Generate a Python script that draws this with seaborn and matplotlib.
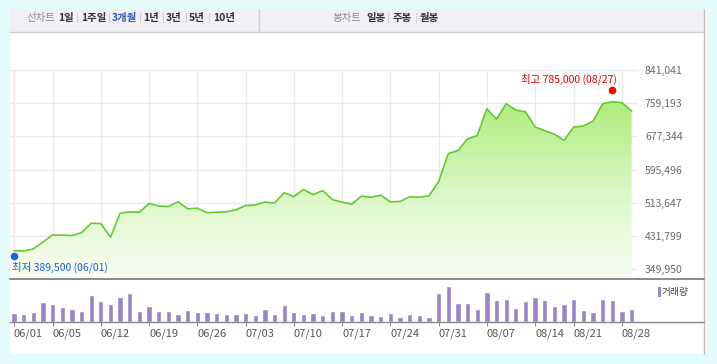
import numpy as np
import pandas as pd
import seaborn as sns
import matplotlib
matplotlib.use('Agg')
import matplotlib.pyplot as plt
import matplotlib.transforms as mtransforms
from matplotlib.colors import LinearSegmentedColormap
from matplotlib.patches import Rectangle
from matplotlib.lines import Line2D

# 거래일 (2020.06.01 ~ 08.31)
trade_dates = [
    '06/01', '06/02', '06/03', '06/04', '06/05', '06/08', '06/09', '06/10', '06/11', '06/12',
    '06/15', '06/16', '06/17', '06/18', '06/19', '06/22', '06/23', '06/24', '06/25', '06/26',
    '06/29', '06/30', '07/01', '07/02', '07/03', '07/06', '07/07', '07/08', '07/09', '07/10',
    '07/13', '07/14', '07/15', '07/16', '07/17', '07/20', '07/21', '07/22', '07/23', '07/24',
    '07/27', '07/28', '07/29', '07/30', '07/31', '08/03', '08/04', '08/05', '08/06', '08/07',
    '08/10', '08/11', '08/12', '08/13', '08/14', '08/18', '08/19', '08/20', '08/21', '08/24',
    '08/25', '08/26', '08/27', '08/28', '08/31',
]
close_price = [
    396000, 395000, 400000, 417000, 434500, 434000, 433000, 440000, 463500, 462500,
    429000, 488000, 491500, 490500, 512000, 506000, 504500, 516000, 499000, 500500,
    489500, 490500, 491500, 496500, 507000, 508500, 515500, 513000, 539000, 529000,
    546500, 534000, 544000, 521500, 515500, 510500, 530000, 527500, 532500, 516000,
    517000, 528500, 527500, 531000, 566000, 635000, 642500, 671000, 679500, 745500,
    720000, 758000, 742500, 738000, 700500, 691500, 683000, 667500, 700500, 703000,
    715000, 758000, 763000, 760500, 740000,
]
volume = [
    28, 25, 31, 60, 54, 45, 39, 33, 81, 63,
    54, 75, 87, 33, 48, 33, 33, 24, 36, 30,
    30, 27, 24, 24, 27, 21, 39, 24, 51, 30,
    24, 27, 21, 33, 33, 21, 30, 21, 18, 27,
    15, 24, 21, 15, 87, 108, 57, 57, 39, 90,
    66, 69, 42, 63, 75, 66, 48, 54, 69, 36,
    30, 69, 66, 33, 39,
]
tick_dates = ['06/01', '06/05', '06/12', '06/19', '06/26', '07/03', '07/10',
              '07/17', '07/24', '07/31', '08/07', '08/14', '08/21', '08/28']
price_ticks = [349950, 431799, 513647, 595496, 677344, 759193, 841041]
low_price, low_date = 389500, '06/01'
high_price, high_date = 785000, '08/27'
period_tabs = ['1일', '1주일', '3개월', '1년', '3년', '5년', '10년']
candle_tabs = ['일봉', '주봉', '월봉']

W, H = 717, 364


def fx(x):
    return x / W


def fy(y):
    return 1 - y / H


sns.set_style('white')
plt.rcParams['font.family'] = ['Noto Sans CJK KR', 'DejaVu Sans']

fig = plt.figure(figsize=(W / 100, H / 100), dpi=100)
fig.patch.set_facecolor('#e4fcfc')

# 흰색 패널과 상단 탭 영역
fig.add_artist(Rectangle((fx(10), fy(354)), fx(707) - fx(10), fy(9) - fy(354),
                         transform=fig.transFigure, facecolor='white', lw=0, zorder=-10))
fig.add_artist(Rectangle((fx(10), fy(32)), fx(704) - fx(10), fy(9) - fy(32),
                         transform=fig.transFigure, facecolor='#f1f1f5', lw=0, zorder=-9))
fig.add_artist(Line2D([fx(10), fx(704)], [fy(32), fy(32)], color='#cfcfd4', lw=1,
                      transform=fig.transFigure))
fig.add_artist(Line2D([fx(259), fx(259)], [fy(9), fy(32)], color='#cfcfd4', lw=1,
                      transform=fig.transFigure))
fig.add_artist(Line2D([fx(704), fx(704)], [fy(9), fy(354)], color='#bdbdbd', lw=1,
                      transform=fig.transFigure))

tab_y = fy(18)
fig.text(fx(41), tab_y, '선차트', color='#8a8a8a', fontsize=7.5, ha='center', va='center')
for label, cx in zip(period_tabs, [66, 94, 124, 151, 174, 197, 224]):
    fig.text(fx(cx), tab_y, label, color='#2f5bbf' if label == '3개월' else '#333333',
             fontsize=7.5, fontweight='bold', ha='center', va='center')
for sx in [77, 109, 140, 163, 186, 209, 388, 416]:
    fig.add_artist(Line2D([fx(sx), fx(sx)], [fy(13), fy(22)], color='#d0d0d0', lw=0.8,
                          transform=fig.transFigure))
fig.text(fx(347), tab_y, '봉차트', color='#8a8a8a', fontsize=7.5, ha='center', va='center')
for label, cx in zip(candle_tabs, [376, 402, 429]):
    fig.text(fx(cx), tab_y, label, color='#333333', fontsize=7.5, fontweight='bold',
             ha='center', va='center')

df = pd.DataFrame({'day': np.arange(len(trade_dates)), 'date': trade_dates,
                   'close': close_price, 'volume': volume})
tick_idx = [trade_dates.index(d) for d in tick_dates]
xlim = (-0.41, 64.66)
ylim = (326000, 841041)

# 가격 차트
ax = fig.add_axes([fx(10), fy(279), fx(638) - fx(10), fy(70) - fy(279)])
ax.set_facecolor('none')
sns.lineplot(data=df, x='day', y='close', color='#66c832', lw=1.2, ax=ax, zorder=4)
poly = ax.fill_between(df['day'], df['close'], ylim[0], color='none', lw=0)
cmap = LinearSegmentedColormap.from_list('fill', ['#f8fdf4', '#daf7c4', '#afec7e'])
img = ax.imshow(np.linspace(0, 1, 256).reshape(-1, 1), cmap=cmap, origin='lower', aspect='auto',
                extent=[df['day'].min(), df['day'].max(), ylim[0], df['close'].max()], zorder=2)
img.set_clip_path(poly.get_paths()[0], transform=ax.transData)

ax.set_xlim(xlim)
ax.set_ylim(ylim)
ax.set_xticks(tick_idx)
ax.set_yticks(price_ticks)
ax.set_yticklabels([f'{v:,}' for v in price_ticks])
ax.grid(True, color='#ebebeb', lw=1)
ax.set_axisbelow(True)
ax.tick_params(axis='x', length=0, labelbottom=False)
ax.tick_params(axis='y', length=0, left=False, labelleft=False, right=True, labelright=True,
               pad=5, labelsize=7.5, labelcolor='#6a6a6a')
ax.set_xlabel('')
ax.set_ylabel('')
for side in ['top', 'left', 'right']:
    ax.spines[side].set_visible(False)
ax.spines['bottom'].set_color('#777777')
ax.spines['bottom'].set_linewidth(1.2)

low_idx = trade_dates.index(low_date)
high_idx = trade_dates.index(high_date)
down = ax.transData + mtransforms.ScaledTranslation(0, -3 / 100, fig.dpi_scale_trans)
up = ax.transData + mtransforms.ScaledTranslation(0, 2.5 / 100, fig.dpi_scale_trans)
ax.plot(low_idx, low_price, 'o', color='#1c64dc', ms=4.5, transform=down, clip_on=False, zorder=6)
ax.plot(high_idx, high_price, 'o', color='#ff0000', ms=4.5, transform=up, clip_on=False, zorder=6)
ax.annotate(f'최저 {low_price:,} ({low_date})', xy=(low_idx, low_price), xytext=(-1.7, -10),
            textcoords='offset points', ha='left', va='center', color='#1c5fd8', fontsize=7.5,
            annotation_clip=False)
ax.annotate(f'최고 {high_price:,} ({high_date})', xy=(high_idx, high_price), xytext=(3.4, 9.4),
            textcoords='offset points', ha='right', va='center', color='#e60000', fontsize=7.5,
            annotation_clip=False)

# 거래량 차트
ax2 = fig.add_axes([fx(10), fy(322), fx(638) - fx(10), fy(279) - fy(322)])
ax2.set_facecolor('none')
sns.barplot(data=df, x='day', y='volume', native_scale=True, width=0.55, color='#9a84c6',
            saturation=1, errorbar=None, ax=ax2)
ax2.set_xlim(xlim)
ax2.set_ylim(0, 129)
ax2.set_xticks(tick_idx)
ax2.set_xticklabels(tick_dates)
for lab in ax2.get_xticklabels():
    lab.set_horizontalalignment('left')
ax2.set_yticks([])
ax2.set_xlabel('')
ax2.set_ylabel('')
ax2.tick_params(axis='x', direction='out', length=3, width=0.8, color='#888888', pad=2,
                labelsize=8, labelcolor='#555555', bottom=True)
for side in ['top', 'left', 'right']:
    ax2.spines[side].set_visible(False)
ax2.spines['bottom'].set_color('#888888')
ax2.spines['bottom'].set_linewidth(1)

fig.add_artist(Line2D([fx(638), fx(704)], [fy(279), fy(279)], color='#777777', lw=1.2,
                      transform=fig.transFigure))
fig.add_artist(Line2D([fx(638), fx(704)], [fy(322), fy(322)], color='#888888', lw=1,
                      transform=fig.transFigure))
fig.add_artist(Rectangle((fx(658), fy(297)), fx(661) - fx(658), fy(287) - fy(297),
                         transform=fig.transFigure, facecolor='#9a84c6', lw=0))
fig.text(fx(662), fy(292), '거래량', color='#444444', fontsize=7, ha='left', va='center')

fig.savefig('out.png', dpi=100)
